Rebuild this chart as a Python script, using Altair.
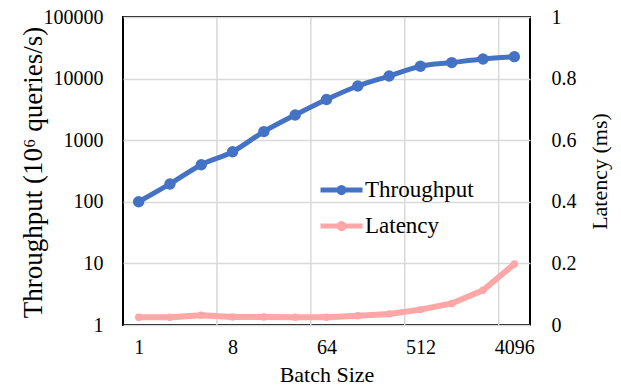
import altair as alt
import pandas as pd

batch_sizes = [1, 2, 4, 8, 16, 32, 64, 128, 256, 512, 1024, 2048, 4096]
throughput = [100, 195, 400, 650, 1380, 2570, 4580, 7580, 11000, 15900, 18200, 20800, 22700]
latency = [0.025, 0.025, 0.032, 0.026, 0.026, 0.025, 0.025, 0.030, 0.036, 0.050, 0.070, 0.113, 0.198]
label_batches = [1, 8, 64, 512, 4096]
series_names = ["Throughput", "Latency"]
series_colors = ["#4472C4", "#FFA6A6"]
left_ticks = [1, 10, 100, 1000, 10000, 100000]
right_ticks = [0, 0.2, 0.4, 0.6, 0.8, 1]

idx = list(range(len(batch_sizes)))
df_t = pd.DataFrame({"idx": idx, "batch": batch_sizes, "value": throughput, "series": series_names[0]})
df_l = pd.DataFrame({"idx": idx, "batch": batch_sizes, "value": latency, "series": series_names[1]})
label_idx = [batch_sizes.index(b) for b in label_batches]
grid_df = pd.DataFrame({"idx": [i - 0.5 for i in label_idx[1:]]})

FONT = "'Liberation Serif', 'Times New Roman', Times, serif"
label_expr = "[" + ",".join(f"'{b}'" for b in batch_sizes) + "][datum.value]"
# legend glyph: a line with a dot, drawn wider than the nominal symbol box
SYMBOL = "M-1,0L3,0M0.75,0A0.25,0.25,0,1,1,1.25,0A0.25,0.25,0,1,1,0.75,0Z"

x = alt.X(
    "idx:Q",
    scale=alt.Scale(domain=[-0.5, len(batch_sizes) - 0.5], nice=False, zero=False),
    axis=alt.Axis(values=label_idx, labelExpr=label_expr, title="Batch Size", grid=False,
                  ticks=False, domain=False, labelPadding=12, titlePadding=7, titleFontSize=22),
)
color = alt.Color(
    "series:N",
    scale=alt.Scale(domain=series_names, range=series_colors),
    legend=alt.Legend(title=None, orient="none", legendX=195, legendY=160, symbolType=SYMBOL,
                      symbolSize=441, symbolStrokeWidth=5, labelFontSize=23, labelFont=FONT,
                      labelColor="black", rowPadding=10, labelOffset=21, padding=0),
)

rules = alt.Chart(grid_df).mark_rule(color="#D9D9D9", strokeWidth=1.5).encode(x=x)

thr = alt.Chart(df_t).mark_line(
    strokeWidth=5, interpolate="monotone",
    point=alt.OverlayMarkDef(filled=True, size=130, opacity=1),
).encode(
    x=x,
    y=alt.Y("value:Q", scale=alt.Scale(type="log", domain=[1, 100000], nice=False),
            axis=alt.Axis(orient="left", values=left_ticks, format="d",
                          title="Throughput (10⁶  queries/s)", gridColor="#D9D9D9", gridWidth=1.5,
                          ticks=False, domain=False, labelPadding=20,
                          titleFontSize=27, titleAngle=270, titleX=-90, titleY=155,
                          titleBaseline="middle", titleAlign="center")),
    color=color,
)

lat = alt.Chart(df_l).mark_line(
    strokeWidth=6,
    point=alt.OverlayMarkDef(filled=True, size=55, opacity=1),
).encode(
    x=x,
    y=alt.Y("value:Q", scale=alt.Scale(domain=[0, 1], nice=False),
            axis=alt.Axis(orient="right", values=right_ticks, format="~g", title="Latency (ms)",
                          grid=False, ticks=False, domain=False, labelPadding=21,
                          titleFontSize=22, titleAngle=270, titleX=69, titleY=154,
                          titleBaseline="middle", titleAlign="center")),
    color=color,
)

chart = alt.layer(rules, thr, lat).resolve_scale(y="independent").properties(
    width=407, height=308,
    autosize=alt.AutoSizeParams(type="none"),
    padding={"left": 123, "top": 17, "right": 91, "bottom": 65},
).configure(font=FONT).configure_axis(
    labelFont=FONT, titleFont=FONT, labelFontSize=20,
    labelColor="black", titleColor="black", titleFontWeight="normal",
).configure_legend(labelFont=FONT).configure_view(stroke="black", strokeWidth=2)

chart.save("out.html", embed_options={"renderer": "svg", "actions": False})
